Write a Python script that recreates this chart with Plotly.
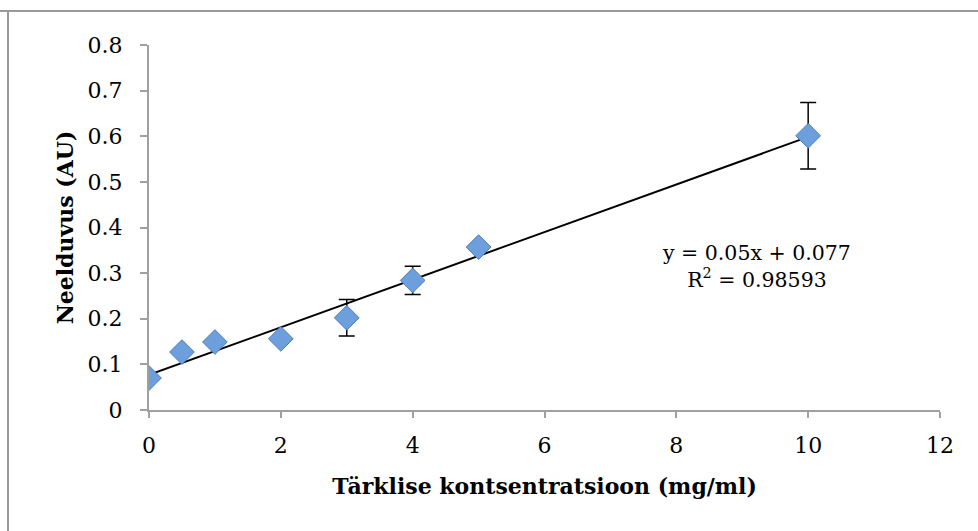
import numpy as np
import plotly.graph_objects as go

conc = [0, 0.5, 1, 2, 3, 4, 5, 10]
absorb = [0.070, 0.127, 0.149, 0.156, 0.202, 0.284, 0.357, 0.601]
err = [0.0, 0.0, 0.0, 0.0, 0.040, 0.031, 0.0, 0.073]
eq_label = "y = 0.05x + 0.077<br>R<sup>2</sup> = 0.98593"

slope, intercept = np.polyfit(conc, absorb, 1)
trend_x = [min(conc), max(conc)]
trend_y = [slope * x + intercept for x in trend_x]

font = "DejaVu Serif"
axis_col = "#a0a0a0"

fig = go.Figure()
fig.add_trace(go.Scatter(
    x=trend_x, y=trend_y, mode="lines",
    line=dict(color="black", width=2), showlegend=False, hoverinfo="skip"))
fig.add_trace(go.Scatter(
    x=conc, y=absorb, mode="markers",
    marker=dict(symbol="diamond", size=19, color="#6C9FDC",
                line=dict(color="#4A7EBB", width=1)),
    error_y=dict(type="data", array=err, visible=True, color="black",
                 thickness=1.5, width=8),
    showlegend=False))

fig.add_annotation(x=9.22, y=0.314, xref="x", yref="y",
                   text=eq_label,
                   showarrow=False, align="center",
                   font=dict(family=font, size=20.5, color="black"))

fig.update_layout(
    width=978, height=531,
    margin=dict(l=149, r=38, t=45, b=121),
    paper_bgcolor="white", plot_bgcolor="white",
    font=dict(family=font, size=22, color="black"),
    xaxis=dict(range=[0, 12], tickvals=[0, 2, 4, 6, 8, 10, 12],
               showline=True, linecolor=axis_col, linewidth=2,
               ticks="outside", ticklen=6, tickcolor=axis_col, tickwidth=2,
               showgrid=False, zeroline=False, ticklabelstandoff=9,
               tickfont=dict(family=font, size=22),
               title=dict(text="<b>Tärklise kontsentratsioon (mg/ml)</b>",
                          font=dict(family=font, size=22), standoff=21)),
    yaxis=dict(range=[0, 0.8], tickvals=[0, 0.1, 0.2, 0.3, 0.4, 0.5, 0.6, 0.7, 0.8],
               ticktext=["0", "0.1", "0.2", "0.3", "0.4", "0.5", "0.6", "0.7", "0.8"],
               showline=True, linecolor=axis_col, linewidth=2,
               ticks="outside", ticklen=7, tickcolor=axis_col, tickwidth=2,
               showgrid=False, zeroline=False, ticklabelstandoff=13,
               tickfont=dict(family=font, size=22),
               title=dict(text="<b>Neelduvus (AU)</b>",
                          font=dict(family=font, size=22), standoff=8)),
    shapes=[
        dict(type="line", xref="paper", yref="paper", x0=-149/791, x1=(978-149)/791 + 0.1,
             y0=1 + 34/365, y1=1 + 34/365, line=dict(color="#999999", width=2)),
        dict(type="line", xref="paper", yref="paper", x0=-141/791, x1=-141/791,
             y0=-0.5, y1=1 + 34/365, line=dict(color="#999999", width=2)),
    ],
)

fig.write_html("out.html")
